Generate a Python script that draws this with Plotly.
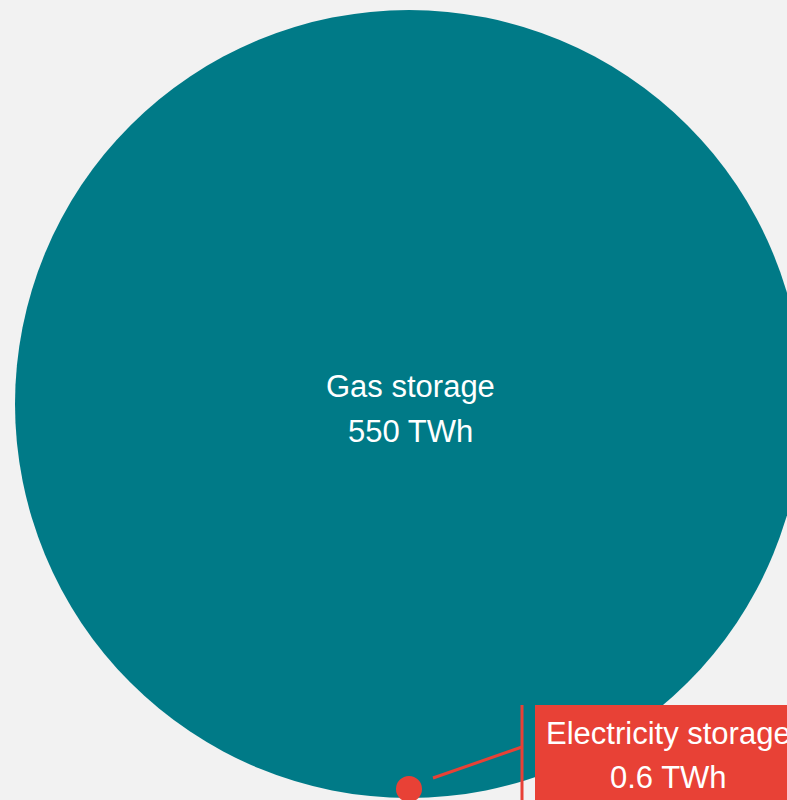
import math
import plotly.graph_objects as go

categories = ["Gas storage", "Electricity storage"]
values_twh = [550, 0.6]
value_labels = ["550 TWh", "0.6 TWh"]
colors = ["#007a87", "#e84136"]

W, H = 787, 800
BG = "#f2f2f2"
FONT = "Liberation Sans, Arial, sans-serif"

# area-proportional radius scale (px per sqrt(TWh))
k = 394 / math.sqrt(max(values_twh))
radii = [k * math.sqrt(v) for v in values_twh]

big_c = (409, 404)
small_c = (409, 404 + radii[0] - radii[1] + 4)

fig = go.Figure()
fig.add_trace(go.Scatter(x=[0, W], y=[0, H], mode="markers",
                         marker=dict(opacity=0), hoverinfo="skip", showlegend=False))

shapes = []
for (cx, cy), r, col in zip([big_c, small_c], radii, colors):
    shapes.append(dict(type="circle", xref="x", yref="y",
                       x0=cx - r, x1=cx + r, y0=cy - r, y1=cy + r,
                       fillcolor=col, line=dict(width=0), layer="above"))

red = colors[1]
# label box
shapes.append(dict(type="rect", xref="x", yref="y", x0=535, x1=805, y0=705, y1=805,
                   fillcolor=red, line=dict(width=0), layer="above"))
# vertical bracket line
shapes.append(dict(type="line", xref="x", yref="y", x0=522, x1=522, y0=705, y1=805,
                   line=dict(color=red, width=3), layer="above"))
# connector
shapes.append(dict(type="line", xref="x", yref="y", x0=433, x1=522, y0=778, y1=747,
                   line=dict(color=red, width=3), layer="above"))

annotations = []
def add_lines(x, ys, lines):
    for y, t in zip(ys, lines):
        annotations.append(dict(x=x, y=y, xref="x", yref="y", text=t, showarrow=False,
                                font=dict(family=FONT, size=31, color="white"),
                                xanchor="center", yanchor="middle"))

add_lines(big_c[0] + 1, [386, 431], [categories[0], value_labels[0]])
add_lines(668, [733, 777], [categories[1], value_labels[1]])

fig.update_layout(
    width=W, height=H, margin=dict(l=0, r=0, t=0, b=0),
    paper_bgcolor=BG, plot_bgcolor=BG,
    xaxis=dict(range=[0, W], visible=False, fixedrange=True),
    yaxis=dict(range=[H, 0], visible=False, fixedrange=True),
    shapes=shapes, annotations=annotations, showlegend=False,
)
fig.write_html("out.html", config={"displayModeBar": False},
               post_script="document.body.style.margin='0';document.body.style.background='#f2f2f2';")
